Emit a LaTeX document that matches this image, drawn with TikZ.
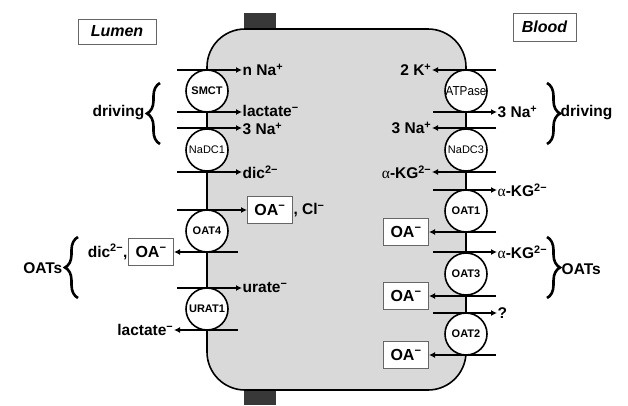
\documentclass[tikz,border=0pt]{standalone}
\usepackage{fontspec}
\setmainfont{Liberation Sans}
\newfontfamily\grkfont{Liberation Serif}
\usetikzlibrary{arrows.meta,decorations.pathreplacing}
\definecolor{cellgray}{gray}{0.85}
\definecolor{tabgray}{gray}{0.22}
\definecolor{boxedge}{gray}{0.4}
\newcommand{\sups}[1]{\textsuperscript{#1}}
\newcommand{\akg}{{\grkfont\mdseries α}-KG\sups{2−}}
\tikzset{
  lbl/.style={font=\fontsize{15.5}{17}\selectfont\bfseries, inner sep=0.5pt},
  tp/.style={circle, draw, line width=1.6pt, fill=white, minimum size=42pt, inner sep=0pt,
             font=\fontsize{11}{12}\selectfont\bfseries},
  tpn/.style={tp, font=\fontsize{11}{12}\selectfont},
  arr/.style={line width=1.6pt, -{Latex[length=6pt,width=6pt]}},
  oabox/.style={draw=boxedge, line width=0.9pt, fill=white, minimum width=45pt,
                minimum height=27pt, inner sep=0pt, font=\fontsize{16}{18}\selectfont\bfseries},
  titlebox/.style={draw=boxedge, line width=0.9pt, fill=white, inner sep=0pt,
                   font=\fontsize{16}{18}\selectfont\bfseries\itshape},
  brc/.style={decorate, decoration={brace, amplitude=13pt}, line width=2.6pt},
}
\begin{document}
\begin{tikzpicture}[x=1pt,y=-1pt]
\useasboundingbox (0,0) rectangle (628,405);
% tabs
\fill[tabgray] (244,13) rectangle (276,32);
\fill[tabgray] (244,387) rectangle (276,405);
% cell
\draw[fill=cellgray, line width=1.6pt, rounded corners=38pt] (207,29) rectangle (466,390);

% titles
\node[titlebox, minimum width=78pt, minimum height=25pt] (lumen) at (117,31.5) {Lumen};
\node[titlebox, minimum width=63pt, minimum height=28pt] (blood) at (544.5,27) {Blood};

% left transporters
\node[tp] (smct) at (207,91) {SMCT};
\node[tpn] (nadc1) at (207,150) {NaDC1};
\node[tp] (oat4) at (207,231) {OAT4};
\node[tp] (urat1) at (207,309) {URAT1};
% right transporters
\node[tpn] (atp) at (466,91) {\scalebox{0.9}[1]{\fontsize{13}{14}\selectfont ATPase}};
\node[tpn] (nadc3) at (466,150) {NaDC3};
\node[tp] (oat1) at (466,211) {OAT1};
\node[tp] (oat3) at (466,274) {OAT3};
\node[tp] (oat2) at (466,334) {OAT2};

% ---- left side arrows and labels
\coordinate (l1) at (177,70);
\node[lbl, anchor=west] (t1) at (242,70) {n Na\sups{+}};
\draw[arr] (l1) -- (t1.west);
\coordinate (l2) at (177,112);
\node[lbl, anchor=west] (t2) at (242,111) {lactate\sups{−}};
\draw[arr] (l2) -- (t2.west |- l2);
\coordinate (l3) at (177,128);
\node[lbl, anchor=west] (t3) at (242,129) {3 Na\sups{+}};
\draw[arr] (l3) -- (t3.west |- l3);
\coordinate (l4) at (177,172);
\node[lbl, anchor=west] (t4) at (242,172) {dic\sups{2−}};
\draw[arr] (l4) -- (t4.west);
\coordinate (l5) at (177,210);
\node[oabox, anchor=west] (b1) at (247,210) {OA\sups{−}};
\node[lbl, anchor=west] (t5) at (b1.east) {, Cl\sups{−}};
\draw[arr] (l5) -- (b1.west);
\coordinate (l6) at (238,252);
\node[oabox, anchor=east] (b2) at (174,252) {OA\sups{−}};
\node[lbl, anchor=east] (t6) at (b2.west) {dic\sups{2−},};
\draw[arr] (l6) -- (b2.east);
\coordinate (l7) at (177,288);
\node[lbl, anchor=west] (t7) at (242,288) {urate\sups{−}};
\draw[arr] (l7) -- (t7.west);
\coordinate (l8) at (238,330);
\node[lbl, anchor=east] (t8) at (174,330) {lactate\sups{−}};
\draw[arr] (l8) -- (t8.east);

% ---- right side arrows and labels
\coordinate (r1) at (496,70);
\node[lbl, anchor=east] (u1) at (432,70) {2 K\sups{+}};
\draw[arr] (r1) -- (u1.east);
\coordinate (r2) at (433,112);
\node[lbl, anchor=west] (u2) at (497,112) {3 Na\sups{+}};
\draw[arr] (r2) -- (u2.west);
\coordinate (r3) at (496,128);
\node[lbl, anchor=east] (u3) at (432,128) {3 Na\sups{+}};
\draw[arr] (r3) -- (u3.east);
\coordinate (r4) at (496,172);
\node[lbl, anchor=east] (u4) at (432,172) {\akg};
\draw[arr] (r4) -- (u4.east);
\coordinate (r5) at (433,190);
\node[lbl, anchor=west] (u5) at (497,190) {\akg};
\draw[arr] (r5) -- (u5.west);
\coordinate (r6) at (496,232);
\node[oabox, anchor=east] (c1) at (429,232) {OA\sups{−}};
\draw[arr] (r6) -- (c1.east);
\coordinate (r7) at (433,252);
\node[lbl, anchor=west] (u7) at (497,252) {\akg};
\draw[arr] (r7) -- (u7.west);
\coordinate (r8) at (496,296);
\node[oabox, anchor=east] (c2) at (429,296) {OA\sups{−}};
\draw[arr] (r8) -- (c2.east);
\coordinate (r9) at (433,313);
\node[lbl, anchor=west] (u9) at (497,313) {?};
\draw[arr] (r9) -- (u9.west);
\coordinate (r10) at (496,355);
\node[oabox, anchor=east] (c3) at (429,355) {OA\sups{−}};
\draw[arr] (r10) -- (c3.east);

% ---- braces
\coordinate (bl1a) at (160,144); \coordinate (bl1b) at (160,83);
\draw[brc] (bl1a) -- (bl1b);
\node[lbl, anchor=east] (drvl) at (145,113) {driving};
\coordinate (bl2a) at (78,298); \coordinate (bl2b) at (78,237);
\draw[brc] (bl2a) -- (bl2b);
\node[lbl, anchor=east] (oatl) at (63,268) {OATs};
\coordinate (br1a) at (547,83); \coordinate (br1b) at (547,144);
\draw[brc] (br1a) -- (br1b);
\node[lbl, anchor=west] (drvr) at (560,113) {driving};
\coordinate (br2a) at (547,237); \coordinate (br2b) at (547,298);
\draw[brc] (br2a) -- (br2b);
\node[lbl, anchor=west] (oatr) at (561,269) {OATs};
\end{tikzpicture}
\end{document}
